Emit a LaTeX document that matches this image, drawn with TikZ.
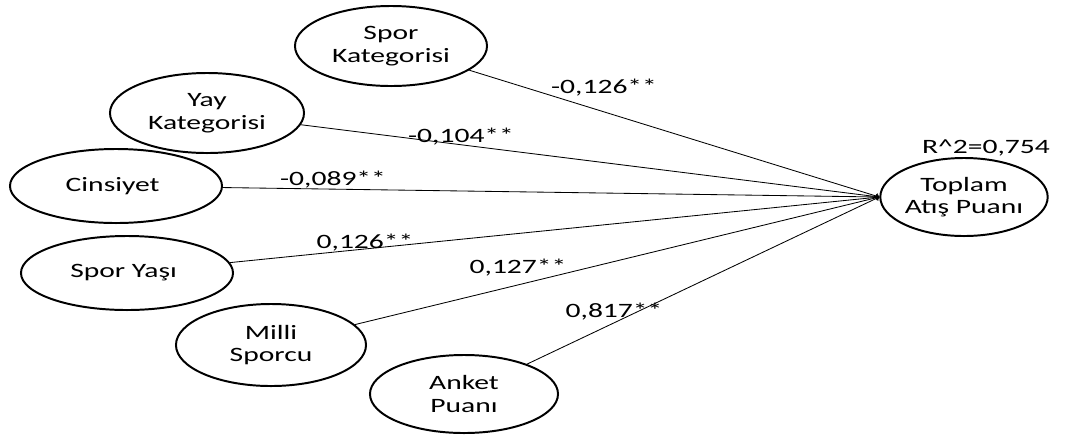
\documentclass[tikz,border=0pt]{standalone}
\usepackage{fontspec}
\setmainfont{Carlito}[FakeStretch=1.45]
\usetikzlibrary{positioning,calc,arrows,shapes.geometric}
\tikzstyle{factor} = [ draw, ellipse, line width = 1.4pt, inner sep = 0pt, align = center, font = \fontsize{14.5}{16}\selectfont ]
\tikzstyle{edge} = [->, line width = 0.6pt]
\tikzstyle{coef} = [ inner sep = 1pt, font = \fontsize{14.5}{16}\selectfont ]

\begin{document}
\begin{tikzpicture}[x=0.025cm, y=-0.025cm]
	\useasboundingbox (0, 0) rectangle (1086, 437);
	\node[factor, minimum width=4.8cm, minimum height=2cm] (spork) at ( 391, 46 ) { Spor\\Kategorisi };
	\node[factor, minimum width=4.85cm, minimum height=2cm] (yayk) at ( 207, 113 ) { Yay\\Kategorisi };
	\node[factor, minimum width=5.3cm, minimum height=1.85cm] (cins) at ( 116, 186 ) { Cinsiyet };
	\node[factor, minimum width=5.3cm, minimum height=1.85cm] (yas) at ( 127, 273 ) { Spor Yaşı };
	\node[factor, minimum width=4.75cm, minimum height=2.05cm] (milli) at ( 271, 345 ) { Milli\\Sporcu };
	\node[factor, minimum width=4.7cm, minimum height=1.95cm] (anket) at ( 464, 394 ) { Anket\\Puanı };
	\node[factor, minimum width=4cm, minimum height=1.95cm] (toplam) at ( 964, 197 ) { Toplam\\Atış Puanı };

	\draw[edge](spork) -- (toplam.west);
	\draw[edge](yayk) -- (toplam.west);
	\draw[edge](cins) -- (toplam.west);
	\draw[edge](yas) -- (toplam.west);
	\draw[edge](milli) -- (toplam.west);
	\draw[edge](anket) -- (toplam.west);

	\node[coef] (c1) at ( 604, 88 ) { -0,126** };
	\node[coef] (c2) at ( 461, 137 ) { -0,104** };
	\node[coef] (c3) at ( 333, 180 ) { -0,089** };
	\node[coef] (c4) at ( 365, 243 ) { 0,126** };
	\node[coef] (c5) at ( 518, 268 ) { 0,127** };
	\node[coef] (c6) at ( 614, 312 ) { 0,817** };
	\node[coef] (r2) at ( 986, 148 ) { R\textasciicircum 2=0,754 };
\end{tikzpicture}
\end{document}
